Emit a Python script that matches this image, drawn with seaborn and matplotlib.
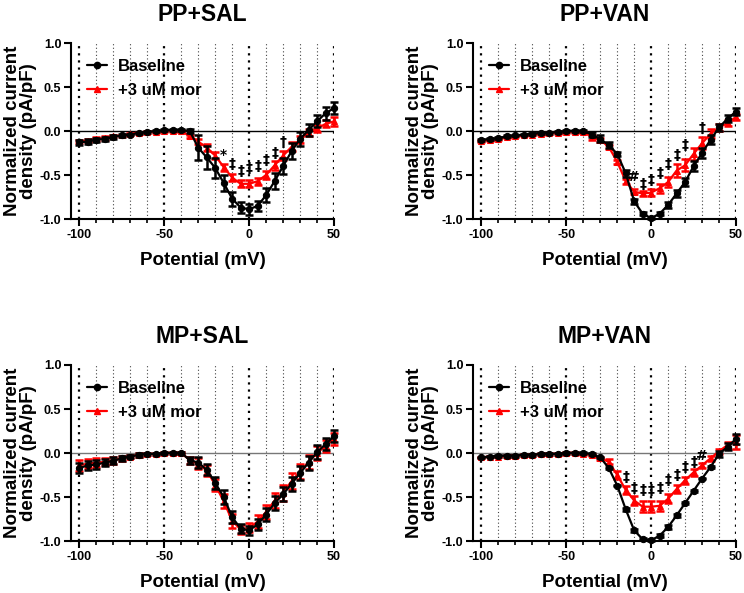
import matplotlib
matplotlib.use("Agg")
import matplotlib.pyplot as plt
import seaborn as sns
import pandas as pd
from matplotlib.ticker import MultipleLocator, FixedLocator
from matplotlib.lines import Line2D

# ---------------- data ----------------
potential = [-100, -95, -90, -85, -80, -75, -70, -65, -60, -55, -50, -45, -40, -35, -30,
             -25, -20, -15, -10, -5, 0, 5, 10, 15, 20, 25, 30, 35, 40, 45, 50]

panel_titles = ["PP+SAL", "PP+VAN", "MP+SAL", "MP+VAN"]
series_labels = ["Baseline", "+3 uM mor"]

pp_sal_base = [-0.13, -0.12, -0.10, -0.09, -0.07, -0.05, -0.04, -0.02, -0.01, 0.00, 0.01, 0.01, 0.01, 0.00, -0.19,
               -0.30, -0.42, -0.59, -0.77, -0.87, -0.89, -0.85, -0.73, -0.57, -0.40, -0.23, -0.09, 0.01, 0.11, 0.20, 0.26]
pp_sal_base_err = [0.03, 0.03, 0.02, 0.02, 0.02, 0.02, 0.01, 0.01, 0.01, 0.01, 0.01, 0.01, 0.01, 0.02, 0.14,
                   0.13, 0.11, 0.09, 0.08, 0.06, 0.06, 0.06, 0.08, 0.09, 0.09, 0.09, 0.08, 0.07, 0.07, 0.07, 0.07]
pp_sal_mor = [-0.12, -0.11, -0.09, -0.08, -0.06, -0.05, -0.03, -0.02, -0.01, -0.01, 0.00, 0.00, 0.00, -0.06, -0.12,
              -0.19, -0.28, -0.41, -0.53, -0.60, -0.60, -0.57, -0.50, -0.39, -0.28, -0.18, -0.10, -0.02, 0.03, 0.08, 0.11]
pp_sal_mor_err = [0.02, 0.02, 0.02, 0.02, 0.01, 0.01, 0.01, 0.01, 0.01, 0.01, 0.01, 0.01, 0.01, 0.02, 0.03,
                  0.04, 0.04, 0.04, 0.04, 0.04, 0.04, 0.04, 0.05, 0.05, 0.05, 0.05, 0.04, 0.04, 0.04, 0.04, 0.05]

pp_van_base = [-0.10, -0.09, -0.08, -0.06, -0.05, -0.04, -0.03, -0.02, -0.02, -0.01, 0.00, 0.00, 0.00, -0.04, -0.09,
               -0.16, -0.26, -0.48, -0.80, -0.94, -0.99, -0.94, -0.84, -0.71, -0.58, -0.40, -0.25, -0.10, 0.04, 0.14, 0.22]
pp_van_base_err = [0.01, 0.01, 0.01, 0.01, 0.01, 0.01, 0.01, 0.01, 0.01, 0.01, 0.01, 0.01, 0.01, 0.03, 0.04,
                   0.03, 0.02, 0.04, 0.03, 0.02, 0.01, 0.02, 0.03, 0.04, 0.05, 0.06, 0.06, 0.05, 0.04, 0.04, 0.04]
pp_van_mor = [-0.11, -0.10, -0.09, -0.07, -0.06, -0.05, -0.04, -0.03, -0.02, -0.02, -0.01, -0.01, -0.01, -0.07, -0.10,
              -0.18, -0.35, -0.57, -0.69, -0.71, -0.70, -0.65, -0.58, -0.45, -0.39, -0.26, -0.14, -0.03, 0.04, 0.09, 0.16]
pp_van_mor_err = [0.01, 0.01, 0.01, 0.01, 0.01, 0.01, 0.01, 0.01, 0.01, 0.01, 0.01, 0.01, 0.01, 0.03, 0.02,
                  0.02, 0.02, 0.03, 0.03, 0.03, 0.04, 0.05, 0.06, 0.07, 0.07, 0.07, 0.07, 0.05, 0.04, 0.03, 0.03]

mp_sal_base = [-0.17, -0.14, -0.13, -0.11, -0.09, -0.06, -0.04, -0.02, -0.01, -0.01, 0.00, 0.00, 0.00, -0.08, -0.11,
               -0.19, -0.34, -0.50, -0.73, -0.86, -0.88, -0.81, -0.70, -0.57, -0.47, -0.35, -0.23, -0.11, 0.01, 0.10, 0.19]
mp_sal_base_err = [0.06, 0.05, 0.05, 0.04, 0.04, 0.03, 0.02, 0.02, 0.01, 0.01, 0.01, 0.01, 0.01, 0.04, 0.06,
                   0.06, 0.07, 0.08, 0.07, 0.05, 0.05, 0.06, 0.07, 0.08, 0.08, 0.08, 0.08, 0.08, 0.08, 0.07, 0.07]
mp_sal_mor = [-0.14, -0.12, -0.11, -0.10, -0.08, -0.06, -0.04, -0.02, -0.01, -0.01, 0.00, 0.00, 0.00, -0.08, -0.12,
              -0.20, -0.36, -0.55, -0.77, -0.87, -0.85, -0.78, -0.67, -0.54, -0.45, -0.32, -0.21, -0.10, 0.00, 0.08, 0.16]
mp_sal_mor_err = [0.06, 0.05, 0.05, 0.04, 0.04, 0.03, 0.02, 0.02, 0.01, 0.01, 0.01, 0.01, 0.01, 0.04, 0.06,
                  0.06, 0.07, 0.08, 0.08, 0.05, 0.05, 0.07, 0.08, 0.09, 0.09, 0.09, 0.08, 0.08, 0.08, 0.07, 0.07]

mp_van_base = [-0.05, -0.04, -0.03, -0.03, -0.03, -0.02, -0.02, -0.01, -0.01, -0.01, 0.00, 0.00, 0.00, -0.01, -0.05,
               -0.17, -0.37, -0.64, -0.88, -0.98, -0.99, -0.94, -0.84, -0.71, -0.57, -0.43, -0.29, -0.16, -0.01, 0.07, 0.16]
mp_van_base_err = [0.01, 0.01, 0.01, 0.01, 0.01, 0.01, 0.01, 0.01, 0.01, 0.01, 0.01, 0.01, 0.01, 0.01, 0.01,
                   0.01, 0.01, 0.02, 0.02, 0.01, 0.01, 0.02, 0.02, 0.02, 0.01, 0.01, 0.01, 0.01, 0.03, 0.04, 0.06]
mp_van_mor = [-0.05, -0.04, -0.04, -0.03, -0.03, -0.02, -0.02, -0.01, -0.01, -0.01, 0.00, 0.00, -0.01, -0.02, -0.06,
              -0.10, -0.25, -0.42, -0.54, -0.61, -0.61, -0.60, -0.52, -0.41, -0.31, -0.22, -0.14, -0.06, 0.02, 0.09, 0.13]
mp_van_mor_err = [0.01, 0.01, 0.01, 0.01, 0.01, 0.01, 0.01, 0.01, 0.01, 0.01, 0.01, 0.01, 0.01, 0.01, 0.02,
                  0.03, 0.04, 0.05, 0.05, 0.06, 0.06, 0.06, 0.05, 0.05, 0.04, 0.04, 0.03, 0.03, 0.03, 0.04, 0.08]

# significance marks: (potential, y, symbol)
pp_sal_marks = [(-15, -0.27, "*"), (-10, -0.37, "‡"), (-5, -0.46, "‡"), (0, -0.42, "‡"),
                (5, -0.40, "‡"), (10, -0.33, "‡"), (15, -0.25, "‡"), (20, -0.13, "†")]
pp_van_marks = [(-10, -0.52, "#"), (-5, -0.60, "‡"), (0, -0.56, "‡"), (5, -0.48, "‡"),
                (10, -0.38, "‡"), (15, -0.27, "‡"), (20, -0.16, "‡"), (30, 0.03, "†")]
mp_sal_marks = []
mp_van_marks = [(-15, -0.27, "‡"), (-10, -0.40, "‡"), (-5, -0.42, "‡"), (0, -0.42, "‡"), (5, -0.40, "‡"),
                (10, -0.31, "‡"), (15, -0.25, "‡"), (20, -0.16, "‡"), (25, -0.10, "‡"), (30, -0.03, "#")]

panels = [
    (pp_sal_base, pp_sal_base_err, pp_sal_mor, pp_sal_mor_err, pp_sal_marks),
    (pp_van_base, pp_van_base_err, pp_van_mor, pp_van_mor_err, pp_van_marks),
    (mp_sal_base, mp_sal_base_err, mp_sal_mor, mp_sal_mor_err, mp_sal_marks),
    (mp_van_base, mp_van_base_err, mp_van_mor, mp_van_mor_err, mp_van_marks),
]

# ---------------- style ----------------
sns.set_theme(style="ticks")
plt.rcParams["font.family"] = ["Liberation Sans", "DejaVu Sans"]
plt.rcParams["font.weight"] = "bold"
plt.rcParams["axes.labelweight"] = "bold"
plt.rcParams["axes.titleweight"] = "bold"
plt.rcParams["axes.unicode_minus"] = False
plt.rcParams["text.color"] = "black"
plt.rcParams["axes.labelcolor"] = "black"

W, H = 744, 593
fig = plt.figure(figsize=(W / 100, H / 100), dpi=100)

axes_px = [(71, 43, 334, 219), (473, 43, 736, 219), (71, 365, 334, 541), (473, 365, 736, 541)]
colors = ["black", "red"]
markers = ["o", "^"]

for i, (title, (b, be, m, me, marks)) in enumerate(zip(panel_titles, panels)):
    x0, y0, x1, y1 = axes_px[i]
    ax = fig.add_axes([x0 / W, 1 - y1 / H, (x1 - x0) / W, (y1 - y0) / H])

    for v in range(-100, 51, 10):
        major = (v % 50 == 0)
        ax.axvline(v, color="black" if major else "#444444",
                   lw=1.6 if major else 0.8, ls=(0, (1, 2.2)), zorder=0)
    ax.axhline(0, color="black" if i < 2 else "#777777", lw=1.0, zorder=1)

    df = pd.DataFrame({
        "Potential": potential * 2,
        "Current": b + m,
        "err": be + me,
        "Condition": [series_labels[0]] * len(potential) + [series_labels[1]] * len(potential),
    })
    for k, lab in reversed(list(enumerate(series_labels))):
        sub = df[df["Condition"] == lab]
        ax.errorbar(sub["Potential"], sub["Current"], yerr=sub["err"], fmt="none",
                    ecolor=colors[k], elinewidth=1.8, capsize=2.6, capthick=1.8,
                    clip_on=False, zorder=3 + 2 * (1 - k))
        sns.lineplot(data=sub, x="Potential", y="Current", ax=ax, color=colors[k],
                     marker=markers[k], markersize=4.5 if k == 0 else 5,
                     markeredgecolor=colors[k], linewidth=1.6, errorbar=None,
                     clip_on=False, zorder=4 + 2 * (1 - k), legend=False)
    handles = [Line2D([], [], color=colors[k], marker=markers[k], lw=1.6,
                      markersize=4.5 if k == 0 else 5) for k in range(2)]
    leg = ax.legend(handles, series_labels, loc="upper left", bbox_to_anchor=(0.0, 1.0),
                    frameon=False, prop={"size": 12, "weight": "bold"}, handlelength=1.2,
                    handletextpad=0.65, labelspacing=0.55, borderaxespad=0.55, borderpad=0.4)
    for t in leg.get_texts():
        t.set_color("black")

    for (px, py, s) in marks:
        ax.text(px, py, s, ha="center", va="center", fontsize=10, fontweight="bold",
                color="black", family=["DejaVu Sans"], zorder=8)

    ax.set_xlim(-105, 50)
    ax.set_ylim(-1.0, 1.0)
    ax.xaxis.set_major_locator(FixedLocator([-100, -50, 0, 50]))
    ax.xaxis.set_minor_locator(MultipleLocator(10))
    ax.set_yticks([-1.0, -0.5, 0.0, 0.5, 1.0])
    ax.set_yticklabels(["-1.0", "-0.5", "0.0", "0.5", "1.0"])
    ax.tick_params(axis="both", which="major", length=5, width=1.5, labelsize=9, pad=2,
                   direction="out", color="black", labelcolor="black")
    ax.tick_params(axis="x", which="minor", length=3, width=1.2, direction="out", color="black")
    for lbl in ax.get_xticklabels() + ax.get_yticklabels():
        lbl.set_fontweight("bold")
    for sp in ["left", "bottom"]:
        ax.spines[sp].set_linewidth(1.5)
        ax.spines[sp].set_color("black")
    for sp in ["top", "right"]:
        ax.spines[sp].set_visible(False)

    ax.set_xlabel("Potential (mV)", fontsize=13.5, fontweight="bold", labelpad=8, color="black")
    ax.set_ylabel("Normalized current\ndensity (pA/pF)", fontsize=13.5, fontweight="bold",
                  labelpad=2, color="black", linespacing=0.95)
    ax.set_title(title, fontsize=16.5, fontweight="bold", pad=16, color="black")

fig.savefig("out.png", dpi=100)
